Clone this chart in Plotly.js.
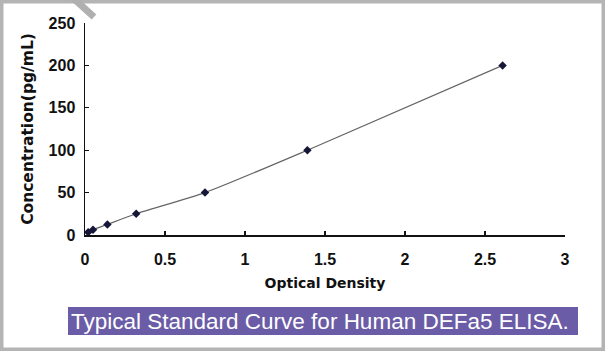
<!DOCTYPE html>
<html>
<head>
<meta charset="utf-8">
<script src="https://cdn.plot.ly/plotly-3.0.1.min.js"></script>
<style>html,body{margin:0;padding:0;background:#fff;}#chart{width:605px;height:351px;}</style>
</head>
<body>
<div id="chart"></div>
<script>
const opticalDensity = [0.02, 0.05, 0.14, 0.32, 0.75, 1.39, 2.61];
const concentration = [3.12, 6.25, 12.5, 25, 50, 100, 200];
const xTicks = [0, 0.5, 1, 1.5, 2, 2.5, 3];
const xTickLabels = ['0', '0.5', '1', '1.5', '2', '2.5', '3'];
const yTicks = [0, 50, 100, 150, 200, 250];
const yTickLabels = ['0', '50', '100', '150', '200', '250'];
const captionText = 'Typical Standard Curve for Human DEFa5 ELISA.';

const tickFont = {family: 'Liberation Sans, Arial, sans-serif', size: 16, color: '#111', weight: 'bold'};
const xTitleFont = {family: 'DejaVu Sans, sans-serif', size: 14, color: '#111', weight: 'bold'};
const yTitleFont = {family: 'DejaVu Sans, sans-serif', size: 15.5, color: '#111', weight: 'bold'};

const trace = {
  x: opticalDensity,
  y: concentration,
  mode: 'lines+markers',
  type: 'scatter',
  line: {color: '#666', width: 1.2, shape: 'spline', smoothing: 0.6},
  marker: {symbol: 'diamond', size: 6.5, color: '#161638'},
  cliponaxis: false,
  hoverinfo: 'none'
};

// pixel -> paper helpers (plot area 85..565 x, 23..235 y)
const L = 85, R = 565, T = 23, B = 235;
const px = v => (v - L) / (R - L);
const py = v => (B - v) / (B - T);

const layout = {
  width: 605, height: 351,
  margin: {l: L, r: 605 - R, t: T, b: 351 - B, pad: 0},
  paper_bgcolor: '#fff', plot_bgcolor: '#fff',
  showlegend: false,
  xaxis: {
    range: [0, 3], tickvals: xTicks, ticktext: xTickLabels,
    showgrid: false, zeroline: false, showline: true, linecolor: '#111', linewidth: 1.5,
    ticks: 'inside', ticklen: 4, tickcolor: '#111', tickwidth: 1.2,
    tickfont: tickFont, ticklabelstandoff: 9,
    title: {text: 'Optical Density', font: xTitleFont, standoff: 11}
  },
  yaxis: {
    range: [0, 250], tickvals: yTicks, ticktext: yTickLabels,
    showgrid: false, zeroline: false, showline: true, linecolor: '#111', linewidth: 1.5,
    ticks: 'inside', ticklen: 4, tickcolor: '#111', tickwidth: 1.2,
    tickfont: tickFont, ticklabelstandoff: 5,
    title: {text: 'Concentration(pg/mL)', font: yTitleFont, standoff: 11}
  },
  shapes: [
    {type: 'rect', xref: 'paper', yref: 'paper', x0: px(68), x1: px(578), y0: py(335), y1: py(307),
     fillcolor: '#6a5ca6', line: {width: 0}},
    {type: 'rect', xref: 'paper', yref: 'paper', x0: px(0), x1: px(605), y0: py(351), y1: py(0),
     fillcolor: 'rgba(0,0,0,0)', line: {color: '#b4b4b4', width: 7}},
    {type: 'line', xref: 'paper', yref: 'paper', x0: px(72), y0: py(-3), x1: px(94), y1: py(17),
     line: {color: '#b0b0b0', width: 7}}
  ],
  annotations: [
    {xref: 'paper', yref: 'paper', x: px(69), y: py(321), xanchor: 'left', yanchor: 'middle',
     text: captionText, showarrow: false,
     font: {family: 'Liberation Sans, Arial, sans-serif', size: 22.5, color: '#fff'}}
  ]
};

Plotly.newPlot('chart', [trace], layout, {displayModeBar: false, staticPlot: true});
</script>
</body>
</html>
